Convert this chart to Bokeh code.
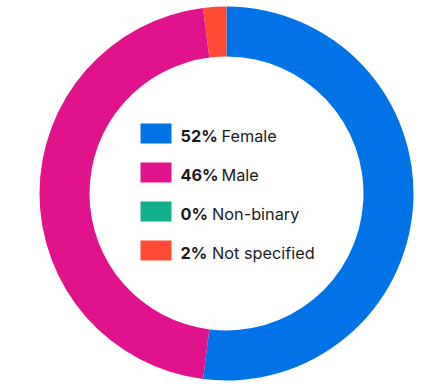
import numpy as np
from bokeh.plotting import figure
from bokeh.models import Range1d, ColumnDataSource
from bokeh.core.properties import value
from bokeh.embed import file_html
from bokeh.resources import INLINE

categories = ["Female", "Male", "Non-binary", "Not specified"]
shares = [52, 46, 0, 2]
colors = ["#0073E6", "#E0138C", "#12B08A", "#FF4A34"]
pct_labels = [f"{v}%" for v in shares]

W, H = 446, 392
cx_px, cy_px = 226, 193
R_OUT, R_IN = 187, 137

p = figure(width=W, height=H, output_backend="svg", toolbar_location=None,
           x_range=Range1d(-cx_px, W - cx_px), y_range=Range1d(cy_px - H, cy_px),
           min_border=0, outline_line_color=None)
p.axis.visible = False
p.grid.visible = False
p.background_fill_color = "white"
p.border_fill_color = "white"

vals = np.array(shares, dtype=float)
frac = vals / vals.sum()
cum = np.concatenate([[0], np.cumsum(frac)])
start = np.pi / 2 - cum[:-1] * 2 * np.pi
end = np.pi / 2 - cum[1:] * 2 * np.pi
keep = vals > 0

src = ColumnDataSource(dict(start=start[keep], end=end[keep],
                            color=[c for c, k in zip(colors, keep) if k]))
p.annular_wedge(x=0, y=0, inner_radius=R_IN, outer_radius=R_OUT,
                start_angle="start", end_angle="end", direction="clock",
                fill_color="color", line_color=None, source=src)

# legend in the centre
row_gap = 39
row0 = 60
ys = [row0 - i * row_gap for i in range(len(categories))]
sq_x = -70.5
p.rect(x=[sq_x] * len(ys), y=ys, width=31, height=20, fill_color=colors, line_color=None)

pct_x = -46
base_y = [y - 2 for y in ys]
p.text(x=[pct_x] * len(ys), y=base_y, text=pct_labels, text_font=value("Inter"),
       text_font_size="16.3px", text_font_style="bold", text_color="#1c1c1c",
       text_baseline="alphabetic", text_align="left")
lab_x = [pct_x + (len(t) - 1) * 9.5 + 22 for t in pct_labels]
p.text(x=lab_x, y=base_y, text=categories, text_font=value("Inter"),
       text_font_size="16.3px", text_color="#1c1c1c",
       text_baseline="alphabetic", text_align="left")

open("out.html", "w").write(file_html(p, INLINE))
